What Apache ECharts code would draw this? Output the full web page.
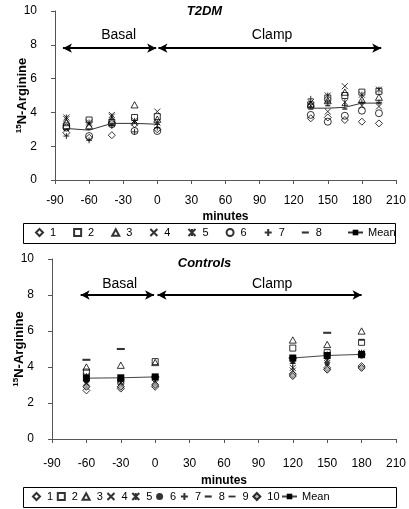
<!DOCTYPE html>
<html><head><meta charset="utf-8">
<script src="https://cdn.jsdelivr.net/npm/echarts@6/dist/echarts.min.js"></script>
<style>html,body{margin:0;padding:0;background:#fff}#c{width:409px;height:509px}</style>
</head><body><div id="c"></div>
<script>
// ---------- T2DM (top) ----------
const t2dmTimes = [-80, -60, -40, -20, 0, 135, 150, 165, 180, 195];
const t2dm1 = [2.8, 2.5, 2.65, 3.3, 3.0, 3.65, 3.7, 3.55, 3.45, 3.35];
const t2dm2 = [3.2, 3.55, 3.4, 3.7, 3.75, 4.45, 4.85, 5.0, 5.2, 5.25];
const t2dm3 = [3.4, 3.2, 3.55, 4.45, 3.6, 4.5, 4.7, 5.2, 4.75, 4.9];
const t2dm4 = [3.6, 3.3, 3.85, 3.4, 4.05, 4.6, 4.05, 5.55, 4.4, 4.35];
const t2dm5 = [3.7, 3.4, 3.75, 3.5, 3.4, 4.4, 5.0, 4.6, 5.05, 5.35];
const t2dm6 = [3.1, 2.6, 3.3, 2.9, 2.9, 3.85, 3.45, 3.8, 4.1, 3.95];
const t2dm7 = [2.6, 2.35, 3.2, 2.85, 3.1, 4.8, 4.6, 4.4, 4.6, 4.6];
const t2dm8 = [3.0, 3.0, 3.3, 3.35, 3.3, 4.2, 4.4, 4.2, 4.55, 4.55];
const t2dmMeanBasalTimes = [-80, -60, -40, -20, 0];
const t2dmMeanBasal = [3.05, 2.95, 3.35, 3.35, 3.3];
const t2dmMeanClampTimes = [135, 150, 165, 180, 195];
const t2dmMeanClamp = [4.25, 4.25, 4.3, 4.55, 4.55];
const t2dmBasalSpan = [-83, -1];
const t2dmClampSpan = [1, 197];
const t2dmArrowLevel = 7.8;

// ---------- Controls (bottom) ----------
const ctrlTimes = [-60, -30, 0, 120, 150, 180];
const ctrl1 = [2.7, 2.8, 2.9, 3.6, 3.95, 4.05];
const ctrl2 = [3.72, 3.2, 4.3, 5.05, 4.8, 5.37];
const ctrl3 = [4.0, 4.1, 4.25, 5.5, 5.25, 6.0];
const ctrl4 = [3.1, 3.0, 3.2, 3.8, 4.4, 4.65];
const ctrl5 = [3.5, 3.1, 3.1, 3.95, 4.5, 4.8];
const ctrl6 = [3.2, 3.3, 3.4, 4.3, 4.2, 4.6];
const ctrl7 = [3.0, 3.2, 3.3, 4.2, 4.7, 4.75];
const ctrl8 = [3.3, 3.5, 3.5, 4.6, 4.5, 5.5];
const ctrl9 = [4.4, 5.0, 3.45, 4.5, 5.9, 4.7];
const ctrl10 = [2.9, 2.9, 3.0, 3.5, 3.85, 3.95];
const ctrlMeanBasalTimes = [-60, -30, 0];
const ctrlMeanBasal = [3.38, 3.4, 3.45];
const ctrlMeanClampTimes = [120, 150, 180];
const ctrlMeanClamp = [4.5, 4.64, 4.7];
const ctrlBasalSpan = [-65, -1];
const ctrlClampSpan = [2, 180];
const ctrlArrowLevel = 8.0;

const xMin = -90, xMax = 210, xStep = 30;
const yMin = 0, yMax = 10, yStep = 2;

const FONT = 'Liberation Sans';
const zip = (xs, ys) => xs.map((x, i) => [x, ys[i]]);

const SYM = {
  diamond: 'path://M5,0L10,5L5,10L0,5Z',
  square: 'path://M0,0H10V10H0Z',
  triangle: 'path://M5,0L10,9L0,9Z',
  cross: 'path://M0,0L10,10M10,0L0,10',
  star: 'path://M0,0L10,10M10,0L0,10M5,0L5,10',
  circle: 'circle',
  plus: 'path://M5,0L5,10M0,5L10,5',
  dash: 'path://M0,0H10V3H0Z',
  longdash: 'path://M0,0H10V2.6H0Z'
};
const openStyle = {color: 'rgba(255,255,255,0)', borderColor: '#000', borderWidth: 1};
const lineSymStyle = {color: 'rgba(255,255,255,0)', borderColor: '#000', borderWidth: 1};
const solidStyle = {color: '#000', borderColor: '#000', borderWidth: 0};

function scat(name, times, vals, gi, symbol, size, style) {
  return {
    name, type: 'scatter', xAxisIndex: gi, yAxisIndex: gi,
    data: zip(times, vals), symbol, symbolSize: size, symbolKeepAspect: true,
    itemStyle: style, z: 3, silent: true
  };
}

const series = [
  scat('t1', t2dmTimes, t2dm1, 0, SYM.diamond, 7, openStyle),
  scat('t2', t2dmTimes, t2dm2, 0, SYM.square, 6, openStyle),
  scat('t3', t2dmTimes, t2dm3, 0, SYM.triangle, 7, openStyle),
  scat('t4', t2dmTimes, t2dm4, 0, SYM.cross, 6, lineSymStyle),
  scat('t5', t2dmTimes, t2dm5, 0, SYM.star, 6, lineSymStyle),
  scat('t6', t2dmTimes, t2dm6, 0, SYM.circle, 7, openStyle),
  scat('t7', t2dmTimes, t2dm7, 0, SYM.plus, 6, lineSymStyle),
  scat('t8', t2dmTimes, t2dm8, 0, SYM.dash, 5, solidStyle),
  {
    name: 'tMean', type: 'line', xAxisIndex: 0, yAxisIndex: 0,
    data: zip(t2dmMeanBasalTimes, t2dmMeanBasal), symbol: SYM.dash, symbolSize: 5, symbolKeepAspect: true, showSymbol: false,
    lineStyle: {color: '#333', width: 1}, itemStyle: {color: '#000'}, z: 4, silent: true,
    markLine: {
      silent: true, symbol: ['arrow', 'arrow'], symbolSize: [7, 9],
      lineStyle: {color: '#000', width: 2, type: 'solid'}, label: {show: false},
      data: [
        [{coord: [t2dmBasalSpan[0], t2dmArrowLevel]}, {coord: [t2dmBasalSpan[1], t2dmArrowLevel]}],
        [{coord: [t2dmClampSpan[0], t2dmArrowLevel]}, {coord: [t2dmClampSpan[1], t2dmArrowLevel]}]
      ]
    },
    markPoint: {
      silent: true, symbol: 'circle', symbolSize: 0,
      label: {show: true, position: 'inside', formatter: '{b}', color: '#000', fontFamily: FONT, fontSize: 14},
      data: [{name: 'Basal', coord: [-34, 8.6]}, {name: 'Clamp', coord: [101, 8.6]}]
    }
  },
  {
    name: 'tMean', type: 'line', xAxisIndex: 0, yAxisIndex: 0,
    data: zip(t2dmMeanClampTimes, t2dmMeanClamp), symbol: SYM.dash, symbolSize: 5, symbolKeepAspect: true, showSymbol: false,
    lineStyle: {color: '#333', width: 1}, itemStyle: {color: '#000'}, z: 4, silent: true
  },

  scat('c1', ctrlTimes, ctrl1, 1, SYM.diamond, 7, openStyle),
  scat('c2', ctrlTimes, ctrl2, 1, SYM.square, 6, openStyle),
  scat('c3', ctrlTimes, ctrl3, 1, SYM.triangle, 7, openStyle),
  scat('c4', ctrlTimes, ctrl4, 1, SYM.cross, 6, lineSymStyle),
  scat('c5', ctrlTimes, ctrl5, 1, SYM.star, 6, lineSymStyle),
  scat('c6', ctrlTimes, ctrl6, 1, SYM.circle, 5, solidStyle),
  scat('c7', ctrlTimes, ctrl7, 1, SYM.plus, 6, lineSymStyle),
  scat('c8', ctrlTimes, ctrl8, 1, SYM.dash, 5, solidStyle),
  scat('c9', ctrlTimes, ctrl9, 1, SYM.longdash, 8, solidStyle),
  scat('c10', ctrlTimes, ctrl10, 1, SYM.diamond, 7, {color: '#a6a6a6', borderColor: '#000', borderWidth: 1}),
  {
    name: 'cMean', type: 'line', xAxisIndex: 1, yAxisIndex: 1,
    data: zip(ctrlMeanBasalTimes, ctrlMeanBasal), symbol: 'rect', symbolSize: 7,
    lineStyle: {color: '#444', width: 1}, itemStyle: {color: '#000'}, z: 5, silent: true,
    markLine: {
      silent: true, symbol: ['arrow', 'arrow'], symbolSize: [7, 9],
      lineStyle: {color: '#000', width: 2, type: 'solid'}, label: {show: false},
      data: [
        [{coord: [ctrlBasalSpan[0], ctrlArrowLevel]}, {coord: [ctrlBasalSpan[1], ctrlArrowLevel]}],
        [{coord: [ctrlClampSpan[0], ctrlArrowLevel]}, {coord: [ctrlClampSpan[1], ctrlArrowLevel]}]
      ]
    },
    markPoint: {
      silent: true, symbol: 'circle', symbolSize: 0,
      label: {show: true, position: 'inside', formatter: '{b}', color: '#000', fontFamily: FONT, fontSize: 14},
      data: [{name: 'Basal', coord: [-31, 8.6]}, {name: 'Clamp', coord: [102, 8.6]}]
    }
  },
  {
    name: 'cMean', type: 'line', xAxisIndex: 1, yAxisIndex: 1,
    data: zip(ctrlMeanClampTimes, ctrlMeanClamp), symbol: 'rect', symbolSize: 7,
    lineStyle: {color: '#444', width: 1}, itemStyle: {color: '#000'}, z: 5, silent: true
  }
];

function xAx(gi, gap, margin) {
  return {
    type: 'value', gridIndex: gi, min: xMin, max: xMax, interval: xStep,
    name: 'minutes', nameLocation: 'middle', nameGap: gap,
    nameTextStyle: {fontFamily: FONT, fontSize: 12, fontWeight: 'bold', color: '#000'},
    axisLine: {show: true, onZero: false, lineStyle: {color: '#555', width: 1}},
    axisTick: {show: true, inside: false, length: 4, lineStyle: {color: '#555'}},
    axisLabel: {fontFamily: FONT, fontSize: 12, color: '#000', margin},
    splitLine: {show: false}
  };
}
function yAx(gi) {
  return {
    type: 'value', gridIndex: gi, min: yMin, max: yMax, interval: yStep,
    name: '{s|15}{n|N-Arginine}', nameLocation: 'middle', nameGap: 26, nameMoveOverlap: false,
    nameTextStyle: {color: '#000', rich: {
      s: {fontFamily: FONT, fontSize: 8, fontWeight: 'bold', verticalAlign: 'top', lineHeight: 14, color: '#000'},
      n: {fontFamily: FONT, fontSize: 13, fontWeight: 'bold', lineHeight: 14, color: '#000'}
    }},
    axisLine: {show: true, onZero: false, lineStyle: {color: '#555', width: 1}},
    axisTick: {show: true, inside: false, length: 4, lineStyle: {color: '#555'}},
    axisLabel: {fontFamily: FONT, fontSize: 12, color: '#000', margin: 18},
    splitLine: {show: false}
  };
}
const legTxt = {fontFamily: FONT, fontSize: 11, color: '#000', padding: [0, 0, 0, 2]};
const legTxtMean = {fontFamily: FONT, fontSize: 11, color: '#000'};
const fmt = n => n.slice(1);

const option = {
  animation: false,
  backgroundColor: '#fff',
  title: [
    {text: 'T2DM', left: 'center', top: 0, textStyle: {fontFamily: FONT, fontSize: 13, fontStyle: 'italic', fontWeight: 'bold', color: '#000'}},
    {text: 'Controls', left: 'center', top: 252, textStyle: {fontFamily: FONT, fontSize: 13, fontStyle: 'italic', fontWeight: 'bold', color: '#000'}}
  ],
  grid: [
    {left: 55, right: 13, top: 11, height: 169},
    {left: 52, right: 12, top: 259, height: 180}
  ],
  xAxis: [xAx(0, 31, 15), xAx(1, 36, 19)],
  yAxis: [yAx(0), yAx(1)],
  legend: [
    {data: ['t1','t2','t3','t4','t5','t6','t7','t8'], formatter: fmt, left: 35, top: 227, padding: 0,
     itemWidth: 7, itemHeight: 7, itemGap: 17, symbolKeepAspect: true, textStyle: legTxt, selectedMode: false},
    {data: ['tMean'], formatter: fmt, left: 347, top: 227, padding: 0, itemWidth: 15, itemHeight: 7,
     textStyle: legTxtMean, selectedMode: false},
    {data: ['c1','c2','c3','c4','c5','c6','c7','c8','c9','c10'], formatter: fmt, left: 32, top: 491, padding: 0,
     itemWidth: 7, itemHeight: 7, itemGap: 3.7, symbolKeepAspect: true, textStyle: legTxt, selectedMode: false},
    {data: ['cMean'], formatter: fmt, left: 281, top: 491, padding: 0, itemWidth: 15, itemHeight: 7,
     textStyle: legTxtMean, selectedMode: false}
  ],
  graphic: [
    {type: 'rect', shape: {x: 23.5, y: 223.5, width: 372, height: 20}, style: {fill: 'none', stroke: '#000', lineWidth: 1}, silent: true},
    {type: 'rect', shape: {x: 23.5, y: 487.5, width: 373, height: 20}, style: {fill: 'none', stroke: '#000', lineWidth: 1}, silent: true}
  ],
  series
};
echarts.init(document.getElementById('c'), null, {renderer: 'canvas'}).setOption(option);
</script>
</body></html>
